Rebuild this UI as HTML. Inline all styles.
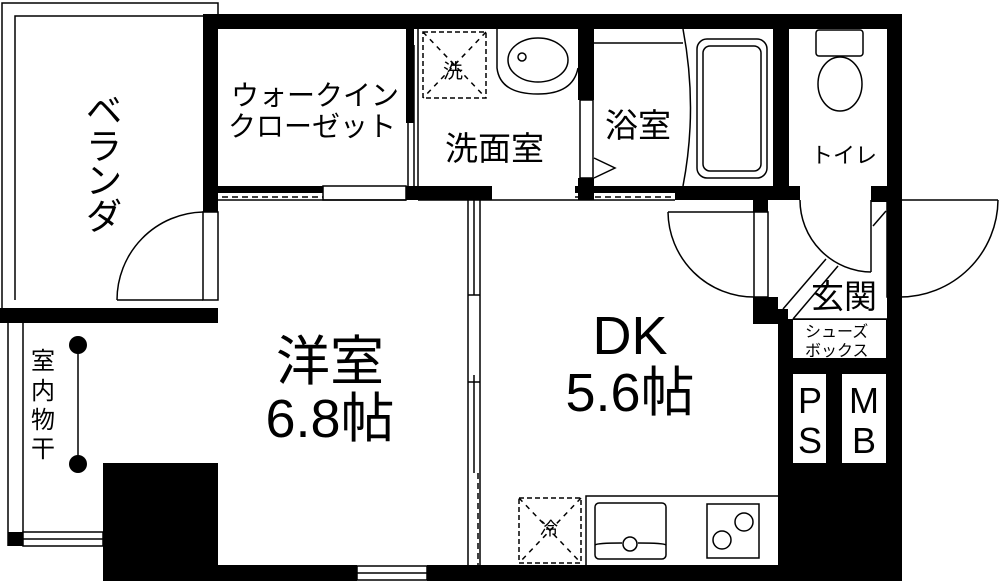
<!DOCTYPE html>
<html><head><meta charset="utf-8"><style>
html,body{margin:0;padding:0;background:#fff;}
svg{display:block;}
text{font-family:"Liberation Sans","Noto Sans CJK JP",sans-serif;fill:#000;}
</style></head><body>
<svg width="1000" height="581" viewBox="0 0 1000 581" xmlns="http://www.w3.org/2000/svg">
<g fill="none" stroke="#000" stroke-width="1.5">
<polyline points="2,308 2,3 218,3 218,14"/>
<polyline points="15,300 15,16 203,16"/>
<line x1="117" y1="300" x2="203" y2="300"/>
<line x1="8" y1="323" x2="8" y2="546"/>
<line x1="23" y1="323" x2="23" y2="532"/>
<rect x="23" y="532" width="80" height="14"/>
<line x1="23" y1="539" x2="103" y2="539"/>
<rect x="203" y="212" width="15" height="88"/>
<path d="M203,212 A88,88 0 0 0 117,300"/>
<rect x="323" y="186" width="83" height="14"/>
<line x1="218" y1="200" x2="406" y2="200"/>
<line x1="222" y1="197" x2="323" y2="197" stroke-dasharray="6,4"/>
<line x1="408" y1="123" x2="408" y2="186"/>
<line x1="414" y1="45" x2="414" y2="186" />
<line x1="418" y1="29" x2="418" y2="186"/>
<rect x="423" y="32" width="63" height="66" stroke-dasharray="5,3"/>
<line x1="423" y1="32" x2="486" y2="98" stroke-dasharray="5,5"/>
<line x1="486" y1="32" x2="423" y2="98" stroke-dasharray="5,5"/>
<path d="M497,29 L497,68 Q500,94 538,94 Q573,94 578,68"/>
<ellipse cx="538" cy="60" rx="30" ry="22"/>
<circle cx="522" cy="57" r="4"/>
<rect x="580" y="100" width="13" height="78"/>
<polyline points="594,158 615,168 594,178"/>
<line x1="492" y1="200" x2="675" y2="200"/>
<line x1="575" y1="197" x2="675" y2="197" stroke-dasharray="6,4"/>
<line x1="418" y1="200" x2="492" y2="200"/>
<line x1="594" y1="43" x2="683" y2="43"/>
<path d="M683,29 Q698,108 683,186"/>
<rect x="697" y="39" width="70" height="139" rx="10"/>
<rect x="703" y="46" width="58" height="125" rx="7"/>
<rect x="816" y="30" width="47" height="26" rx="3"/>
<ellipse cx="840" cy="84" rx="22" ry="27"/>
<rect x="754" y="212" width="14" height="85"/>
<line x1="668" y1="212" x2="754" y2="212"/>
<path d="M668,212 A86,86 0 0 0 754,297"/>
<line x1="871" y1="200" x2="871" y2="272"/>
<path d="M800,200 A72,72 0 0 0 871,272"/>
<rect x="887" y="200" width="13" height="97"/>
<line x1="900" y1="200" x2="998" y2="200"/>
<path d="M998,200 A98,98 0 0 1 900,297"/>
<line x1="873" y1="226" x2="886" y2="211"/>
<line x1="783" y1="309" x2="826" y2="259"/>
<line x1="793" y1="319" x2="838" y2="266"/>
<line x1="468" y1="200" x2="468" y2="565"/>
<line x1="480" y1="200" x2="480" y2="565"/>
<line x1="474" y1="200" x2="474" y2="295"/>
<line x1="468" y1="382" x2="480" y2="382"/>
<line x1="474" y1="375" x2="474" y2="473"/>
<line x1="478" y1="473" x2="478" y2="565" stroke-dasharray="6,4"/>
<line x1="468" y1="295" x2="480" y2="295"/>
<rect x="357" y="566" width="70" height="14"/>
<line x1="357" y1="573" x2="427" y2="573"/>
<polyline points="586,565 586,496 778,496"/>
<rect x="595" y="503" width="71" height="56" rx="4"/>
<path d="M595,545 Q597,543 622,543 M638,543 Q664,543 666,545"/>
<circle cx="630" cy="544" r="7"/>
<rect x="707" y="504" width="52" height="54"/>
<circle cx="744" cy="522" r="9"/>
<circle cx="722" cy="540" r="9"/>
<rect x="519" y="498" width="62" height="65" stroke-dasharray="5,3"/>
<line x1="519" y1="498" x2="581" y2="563" stroke-dasharray="5,5"/>
<line x1="581" y1="498" x2="519" y2="563" stroke-dasharray="5,5"/>
<line x1="78" y1="345" x2="78" y2="464"/>
</g>
<g fill="#000">
<rect x="203" y="14" width="699" height="15"/>
<rect x="203" y="14" width="15" height="198"/>
<rect x="887" y="14" width="15" height="186"/>
<rect x="0" y="308" width="218" height="15"/>
<rect x="8" y="532" width="15" height="14"/>
<rect x="103" y="463" width="115" height="118"/>
<rect x="103" y="565" width="254" height="16"/>
<rect x="427" y="565" width="475" height="16"/>
<rect x="203" y="186" width="120" height="7"/>
<rect x="406" y="29" width="8" height="94"/>
<rect x="406" y="186" width="86" height="14"/>
<rect x="578" y="29" width="16" height="71"/>
<rect x="578" y="178" width="16" height="22"/>
<rect x="575" y="186" width="100" height="7"/>
<rect x="675" y="186" width="125" height="14"/>
<rect x="753" y="186" width="15" height="26"/>
<rect x="773" y="29" width="16" height="157"/>
<rect x="871" y="186" width="31" height="16"/>
<rect x="753" y="297" width="25" height="27"/>
<rect x="778" y="319" width="124" height="246"/>
<rect x="887" y="200" width="15" height="120"/>
<circle cx="78" cy="345" r="9"/>
<circle cx="78" cy="464" r="9"/>
</g>
<g fill="#fff">
<rect x="793" y="320" width="93" height="38"/>
<rect x="793" y="374" width="33" height="89"/>
<rect x="842" y="374" width="44" height="89"/>
</g>
<g fill="#000"><rect x="778" y="309" width="10" height="12"/></g>
<line x1="793" y1="319" x2="887" y2="319" stroke="#000" stroke-width="1.5"/>
<g font-size="36">
<text x="86" y="123">ベ</text>
<text x="86" y="159">ラ</text>
<text x="86" y="193">ン</text>
<text x="86" y="229">ダ</text>
</g>
<text x="231" y="105" font-size="28">ウォークイン</text>
<text x="228" y="136" font-size="28">クローゼット</text>
<text x="443" y="78" font-size="20">洗</text>
<text x="445" y="160" font-size="33">洗面室</text>
<text x="605" y="137" font-size="33">浴室</text>
<text x="811" y="163" font-size="22">トイレ</text>
<text x="811" y="308" font-size="33">玄関</text>
<text x="805" y="337" font-size="16">シューズ</text>
<text x="805" y="356" font-size="16">ボックス</text>
<text x="810" y="413" font-size="36" text-anchor="middle">P</text>
<text x="810" y="453" font-size="36" text-anchor="middle">S</text>
<text x="864" y="413" font-size="36" text-anchor="middle">M</text>
<text x="864" y="453" font-size="36" text-anchor="middle">B</text>
<g font-size="24">
<text x="31" y="369">室</text>
<text x="31" y="399">内</text>
<text x="31" y="428">物</text>
<text x="31" y="457">干</text>
</g>
<text x="540" y="535" font-size="18">冷</text>
<text x="330" y="380" font-size="54" text-anchor="middle">洋室</text>
<text x="330" y="437" font-size="54" text-anchor="middle">6.8帖</text>
<text x="630" y="354" font-size="54" text-anchor="middle">DK</text>
<text x="630" y="411" font-size="54" text-anchor="middle">5.6帖</text>
</svg>
</body></html>
